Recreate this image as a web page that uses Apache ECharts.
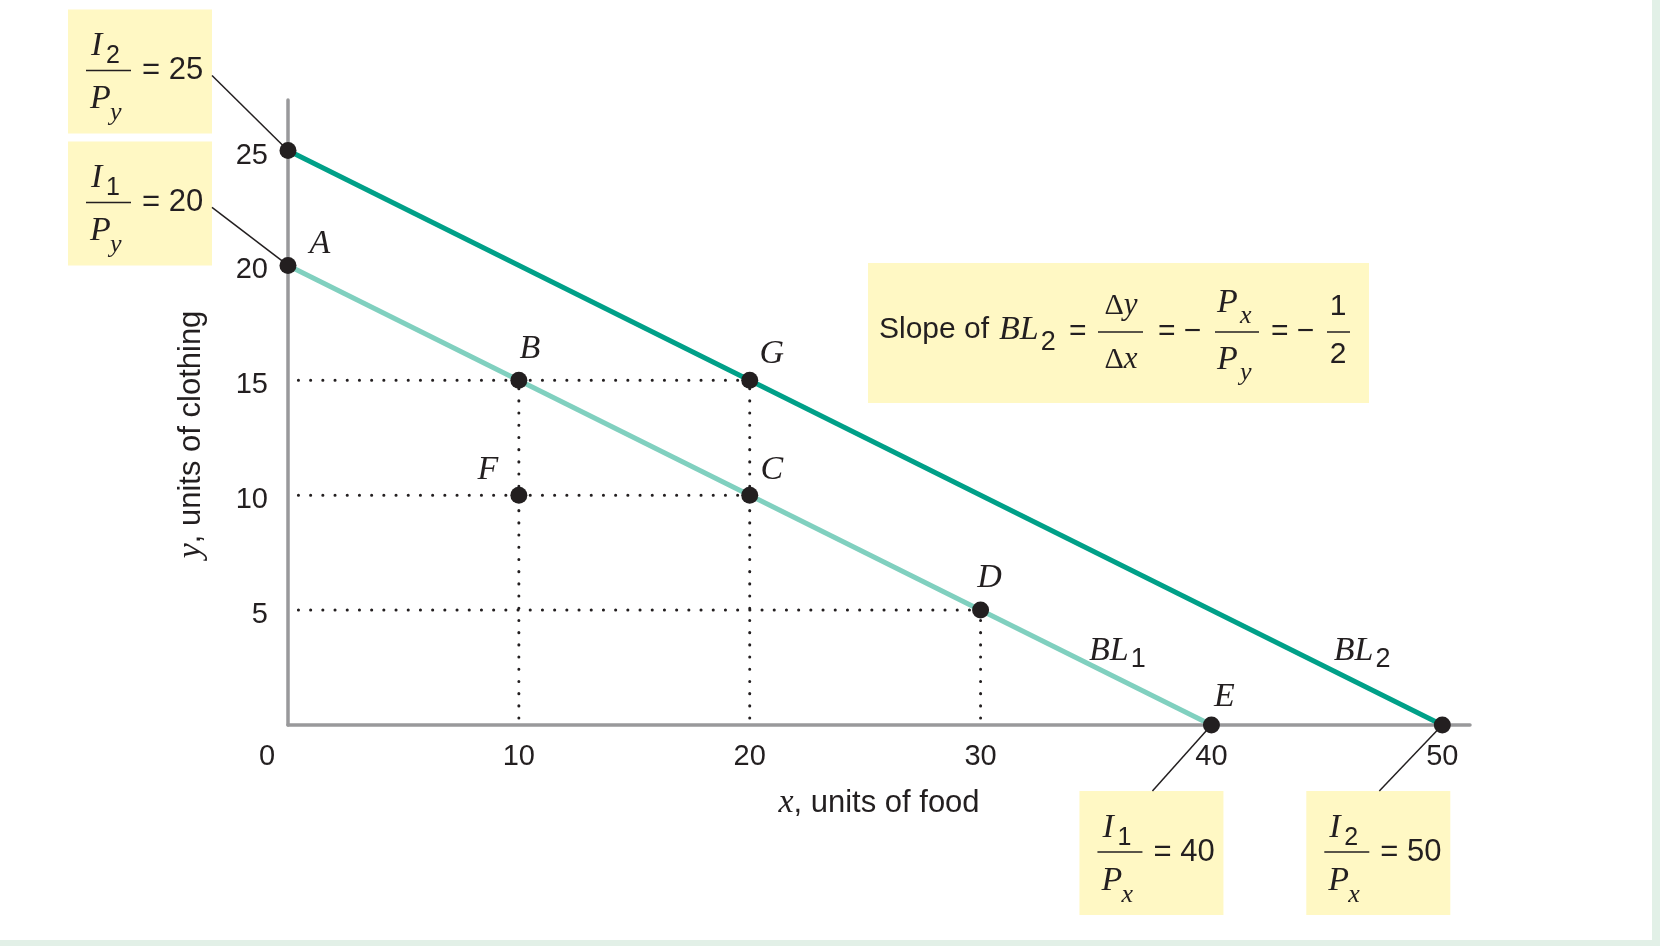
<!DOCTYPE html>
<html><head><meta charset="utf-8">
<script src="https://cdn.jsdelivr.net/npm/echarts@6/dist/echarts.min.js"></script>
<style>
html,body{margin:0;padding:0;background:#fff;}
#wrap{width:1660px;height:946px;position:relative;background:#e2f0e7;overflow:hidden;}
#chart{position:absolute;left:0;top:0;width:1652px;height:940px;background:#fff;}
</style></head>
<body><div id="wrap"><div id="chart"></div></div>
<script>
// ---- data ----
const xTickValues = [0, 10, 20, 30, 40, 50];
const yTickValues = [5, 10, 15, 20, 25];
const bl1Points = [[0, 20], [40, 0]];
const bl2Points = [[0, 25], [50, 0]];
const markNames = ['A', 'B', 'C', 'D', 'E', 'F', 'G'];
const markX = [0, 10, 20, 30, 40, 10, 20];
const markY = [20, 15, 10, 5, 0, 10, 15];
const extraMarkX = [0, 50];
const extraMarkY = [25, 0];
const guideHY = [15, 10, 5];       // horizontal dotted guides: y value
const guideHXEnd = [20, 20, 30];   // ... running to this x
const guideVX = [10, 20, 30];      // vertical dotted guides: x value
const guideVYEnd = [15, 15, 5];    // ... running up to this y
const interceptNumSub = ['2', '1', '1', '2'];
const interceptDen = ['y', 'y', 'x', 'x'];
const interceptValues = [25, 20, 40, 50];
const interceptAt = [[0, 25], [0, 20], [40, 0], [50, 0]];
const xAxisTitle = ['x', ', units of food'];
const yAxisTitle = ['y', ', units of clothing'];
const lineNames = ['BL', 'BL'];
const lineSubs = ['1', '2'];
const lineLabelAt = [[34.7, 3.2], [45.3, 3.2]];

// ---- style ----
const INK = '#231f20';
const YELLOW = '#fff8c4';
const DARK = '#00a088';
const LIGHT = '#80d0bf';
const SANS = '"Liberation Sans", Arial, sans-serif';
const SERIF = '"Liberation Serif", "Times New Roman", serif';
const labelOffset = {A:[32,-21], B:[11,-31], C:[22,-25], D:[9,-32], E:[13,-28], F:[-31,-25], G:[22,-26]};

const mctx = document.createElement('canvas').getContext('2d');
function tw(text, font) { mctx.font = font; return mctx.measureText(text).width; }

const chart = echarts.init(document.getElementById('chart'));

const dotStyle = {color: INK, width: 3, type: [0.1, 12.1], cap: 'round', opacity: 1};
const series = [];
guideHY.forEach((y, i) => {
  series.push({type: 'line', data: [[0.45, y], [guideHXEnd[i], y]], symbol: 'none', silent: true,
    lineStyle: dotStyle, z: 2});
});
guideVX.forEach((x, i) => {
  series.push({type: 'line', data: [[x, 0.3], [x, guideVYEnd[i]]], symbol: 'none', silent: true,
    lineStyle: dotStyle, z: 2});
});
series.push({type: 'line', data: bl1Points, symbol: 'none', lineStyle: {color: LIGHT, width: 5}, z: 3});
series.push({type: 'line', data: bl2Points, symbol: 'none', lineStyle: {color: DARK, width: 5}, z: 3});
series.push({
  type: 'scatter', symbol: 'circle', symbolSize: 17, itemStyle: {color: INK, opacity: 1}, z: 5,
  data: markNames.map((n, i) => ({value: [markX[i], markY[i]], name: n,
    label: {show: true, position: 'inside', offset: labelOffset[n], formatter: n,
      fontFamily: SERIF, fontStyle: 'italic', fontSize: 34, color: INK, opacity: 1}}))
    .concat(extraMarkX.map((x, i) => ({value: [x, extraMarkY[i]], name: ''})))
});

const nameRich = {i: {fontFamily: SERIF, fontStyle: 'italic', fontSize: 34, color: INK},
                  n: {fontFamily: SANS, fontSize: 31, color: INK}};

chart.setOption({
  animation: false,
  backgroundColor: '#fff',
  grid: {left: 288, right: 182, top: 100, bottom: 215, containLabel: false, outerBoundsMode: 'none'},
  xAxis: {
    type: 'value', min: 0, max: 51.2, interval: 10,
    splitLine: {show: false}, axisTick: {show: false},
    axisLine: {lineStyle: {color: '#99999b', width: 3.5}},
    axisLabel: {margin: 17, color: INK, fontFamily: SANS, fontSize: 29,
      formatter: v => v === 0 ? '{z|0}' : (xTickValues.indexOf(v) >= 0 ? String(v) : ''),
      rich: {z: {padding: [0, 42, 0, 0], fontFamily: SANS, fontSize: 29, color: INK}}},
    name: '{i|' + xAxisTitle[0] + '}{n|' + xAxisTitle[1] + '}', nameLocation: 'middle', nameGap: 61,
    nameTextStyle: {rich: nameRich}
  },
  yAxis: {
    type: 'value', min: 0, max: 27.2, interval: 5,
    splitLine: {show: false}, axisTick: {show: false},
    axisLine: {lineStyle: {color: '#99999b', width: 3.5}},
    axisLabel: {margin: 20, color: INK, fontFamily: SANS, fontSize: 29,
      formatter: v => yTickValues.indexOf(v) >= 0 ? '{t|' + v + '}' : '',
      rich: {t: {padding: [10, 0, 0, 0], fontFamily: SANS, fontSize: 29, color: INK}}},
    name: '{i|' + yAxisTitle[0] + '}{n|' + yAxisTitle[1] + '}', nameLocation: 'middle', nameGap: 80, nameRotate: 90,
    nameTextStyle: {padding: [0, 44, 0, 0], rich: nameRich}
  },
  series: series
});

// ---- annotations built from scale positions ----
function txt(x, y, text, font, align, rich) {
  const st = {text: text, font: font, fill: INK,
    align: align || 'left', textAlign: align || 'left', verticalAlign: 'middle', textVerticalAlign: 'middle'};
  if (rich) st.rich = rich;
  return {type: 'text', x: x, y: y, style: st};
}
function hline(x1, x2, y) {
  return {type: 'line', shape: {x1: x1, y1: y, x2: x2, y2: y}, style: {stroke: INK, lineWidth: 1.5}};
}
const F_I = 'italic 34px ' + SERIF;
const F_SUBD = '25px ' + SANS;
const F_SUBI = 'italic 26px ' + SERIF;
const F_TXT = '31px ' + SANS;

function fracBox(left, top, numSub, den, val) {
  return {type: 'group', x: left, y: top, children: [
    {type: 'rect', shape: {x: 0, y: 0, width: 144, height: 124}, style: {fill: YELLOW}},
    txt(23, 37, 'I', F_I),
    txt(38, 47, numSub, F_SUBD),
    hline(18, 63, 61),
    txt(22, 90, 'P', F_I),
    txt(42, 104, den, F_SUBI),
    txt(74, 61, '= ' + val, F_TXT)
  ]};
}

const px = p => chart.convertToPixel({gridIndex: 0}, p);
const graphics = [];
const boxShift = [[-220, -141, 'L'], [-220, -124, 'L'], [-132, 66, 'B'], [-136, 66, 'B']];
interceptAt.forEach((p, i) => {
  const a = px(p);
  const left = a[0] + boxShift[i][0], top = a[1] + boxShift[i][1];
  let sx, sy;
  if (boxShift[i][2] === 'L') { sx = left + 144; sy = top + 66; } else { sx = left + 73; sy = top; }
  graphics.push({type: 'line', shape: {x1: sx, y1: sy, x2: a[0], y2: a[1]}, style: {stroke: INK, lineWidth: 1.5}, z: 1});
  graphics.push(fracBox(left, top, interceptNumSub[i], interceptDen[i], interceptValues[i]));
});

lineLabelAt.forEach((p, i) => {
  const a = px(p);
  const w = tw(lineNames[i], F_I);
  graphics.push({type: 'group', x: a[0], y: a[1], children: [
    txt(0, 0, lineNames[i], F_I),
    txt(w + 2, 8, lineSubs[i], '27px ' + SANS)
  ]});
});

// slope box
const blW = tw('BL', F_I);
const deltaRich = {d: {fontFamily: SERIF, fontSize: 30, color: INK}, v: {fontFamily: SERIF, fontStyle: 'italic', fontSize: 31, color: INK}};
graphics.push({type: 'group', x: 868, y: 263, children: [
  {type: 'rect', shape: {x: 0, y: 0, width: 501, height: 140}, style: {fill: YELLOW}},
  txt(11, 67, 'Slope of', '30px ' + SANS),
  txt(131, 67, 'BL', F_I),
  txt(131 + blW + 2, 80, '2', '27px ' + SANS),
  txt(201, 69, '=', '30px ' + SANS),
  txt(253, 43, '{d|\u0394}{v|y}', '30px ' + SERIF, 'center', deltaRich),
  hline(230, 275, 69),
  txt(253, 97, '{d|\u0394}{v|x}', '30px ' + SERIF, 'center', deltaRich),
  txt(290, 69, '= \u2212', '30px ' + SANS),
  txt(349, 40, 'P', F_I),
  txt(372, 53, 'x', F_SUBI),
  hline(347, 391, 69),
  txt(349, 97, 'P', F_I),
  txt(372, 110, 'y', F_SUBI),
  txt(403, 69, '= \u2212', '30px ' + SANS),
  txt(470, 44, '1', '30px ' + SANS, 'center'),
  hline(459, 482, 69),
  txt(470, 92, '2', '30px ' + SANS, 'center')
]});

chart.setOption({graphic: graphics});
</script>
</body></html>
